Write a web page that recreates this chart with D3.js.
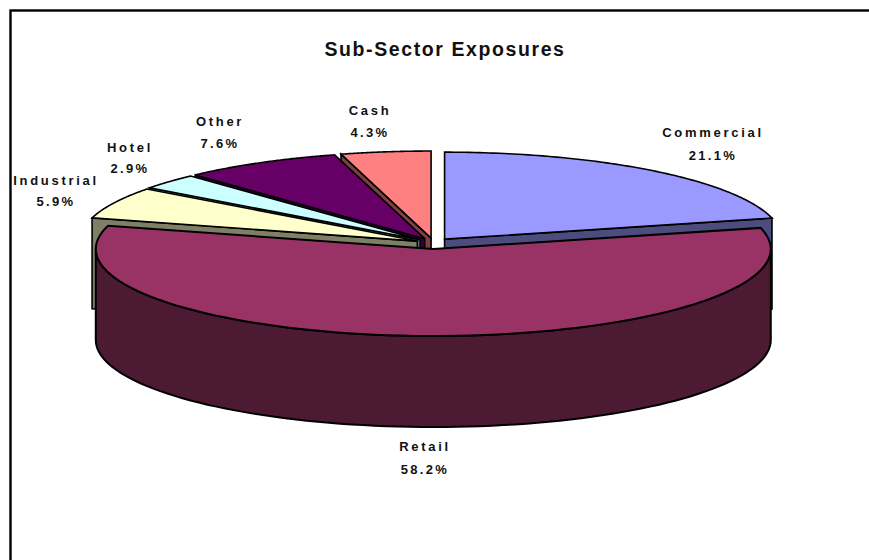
<!DOCTYPE html>
<html>
<head>
<meta charset="utf-8">
<script src="https://cdn.jsdelivr.net/npm/d3@7/dist/d3.min.js"></script>
<style>
  html, body { margin: 0; padding: 0; background: #fff; overflow: hidden; }
  svg { display: block; }
  text { font-family: "Liberation Sans", Arial, sans-serif; font-weight: bold; fill: #111; }
</style>
</head>
<body>
<svg id="chart" width="869" height="560"></svg>
<script>
// Sub-sector shares, in drawing order clockwise from twelve o'clock
const sectors = ["Commercial", "Retail", "Industrial", "Hotel", "Other", "Cash"];
const shares = [21.1, 58.2, 5.9, 2.9, 7.6, 4.3];
const topColors = ["#9999FF", "#993366", "#FFFFCC", "#CCFFFF", "#660066", "#FF8080"];
const wallColors = ["#4C4C7F", "#4C1A33", "#7F7F66", "#667F7F", "#330033", "#7F4040"];

// Layout of the tilted pie
const centre = { x: 433.5, y: 243.5 };
const radius = { x: 337.5, y: 87 };
const depth = 91;
const explode = { x: 18, y: 5.5 };

// Label anchors: horizontal centre and the baselines of the two lines
const labelAt = {
  Commercial: [713, 137, 160],
  Retail: [425, 451, 474],
  Industrial: [56, 185, 206],
  Hotel: [130, 152, 173],
  Other: [220, 126, 148],
  Cash: [370, 115, 137]
};

const svg = d3.select("#chart");

// Chart frame: only its top and left edges fall inside the page
svg.append("rect")
  .attr("x", 10.5).attr("y", 10.5)
  .attr("width", 900).attr("height", 600)
  .attr("fill", "#fff").attr("stroke", "#000").attr("stroke-width", 2.4);

svg.append("text")
  .attr("x", 445).attr("y", 56)
  .attr("text-anchor", "middle")
  .attr("font-size", 19.5)
  .attr("letter-spacing", 1.6)
  .text("Sub-Sector Exposures");

const pie = d3.pie().sort(null).value(d => d.share).startAngle(0).endAngle(2 * Math.PI);
const slices = pie(sectors.map((name, i) => ({ name, share: shares[i], top: topColors[i], wall: wallColors[i] })));

// Unit-circle coordinates projected on to the tilted plane
const sx = d3.scaleLinear().domain([-1, 1]).range([-radius.x, radius.x]);
const sy = d3.scaleLinear().domain([-1, 1]).range([radius.y, -radius.y]);
const line = d3.line().x(d => d[0]).y(d => d[1]);

function apexOf(s) {
  const mid = (s.startAngle + s.endAngle) / 2;
  return [centre.x + explode.x * Math.sin(mid), centre.y - explode.y * Math.cos(mid)];
}
function rimPoint(s, a, drop = 0) {
  const o = apexOf(s);
  return [o[0] + sx(Math.sin(a)), o[1] + sy(Math.cos(a)) + drop];
}
function rim(s, from, to, drop = 0) {
  return d3.range(0, 1.0001, 1 / 90).map(t => rimPoint(s, from + (to - from) * t, drop));
}
function strokeArea(points, fill, width = 2) {
  svg.append("path")
    .attr("d", line(points) + "Z")
    .attr("fill", fill)
    .attr("stroke", "#000")
    .attr("stroke-width", width)
    .attr("stroke-linejoin", "miter");
}
// The cut face that turns toward the viewer on each side of the pie
function cutFace(s, angle) {
  const o = apexOf(s);
  const p = rimPoint(s, angle);
  strokeArea([o, p, [p[0], p[1] + depth], [o[0], o[1] + depth]], s.data.wall, 1.6);
}

const byName = Object.fromEntries(slices.map(s => [s.data.name, s]));

// Far slices first, so the nearer ones cover their walls
["Cash", "Other", "Hotel", "Industrial"].forEach(name => {
  const s = byName[name];
  cutFace(s, s.startAngle);
  const o = apexOf(s);
  strokeArea([o, ...rim(s, s.startAngle, s.endAngle)], s.data.top, 1.6);
});

const commercial = byName.Commercial;
cutFace(commercial, commercial.endAngle);
strokeArea([apexOf(commercial), ...rim(commercial, commercial.startAngle, commercial.endAngle)], commercial.data.top, 1.6);

// The large front slice and its curved outer wall
const retail = byName.Retail;
strokeArea([
  ...rim(retail, Math.PI / 2, 3 * Math.PI / 2),
  ...rim(retail, 3 * Math.PI / 2, Math.PI / 2, depth)
], retail.data.wall);
strokeArea([apexOf(retail), ...rim(retail, retail.startAngle, retail.endAngle)], retail.data.top);

// Two-line labels: sector name and share
slices.forEach(s => {
  const [x, y1, y2] = labelAt[s.data.name];
  svg.append("text").attr("x", x).attr("y", y1).attr("text-anchor", "middle")
    .attr("font-size", 13).attr("letter-spacing", 2.7).text(s.data.name);
  svg.append("text").attr("x", x).attr("y", y2).attr("text-anchor", "middle")
    .attr("font-size", 13).attr("letter-spacing", 2.3).text(s.data.share.toFixed(1) + "%");
});
</script>
</body>
</html>
